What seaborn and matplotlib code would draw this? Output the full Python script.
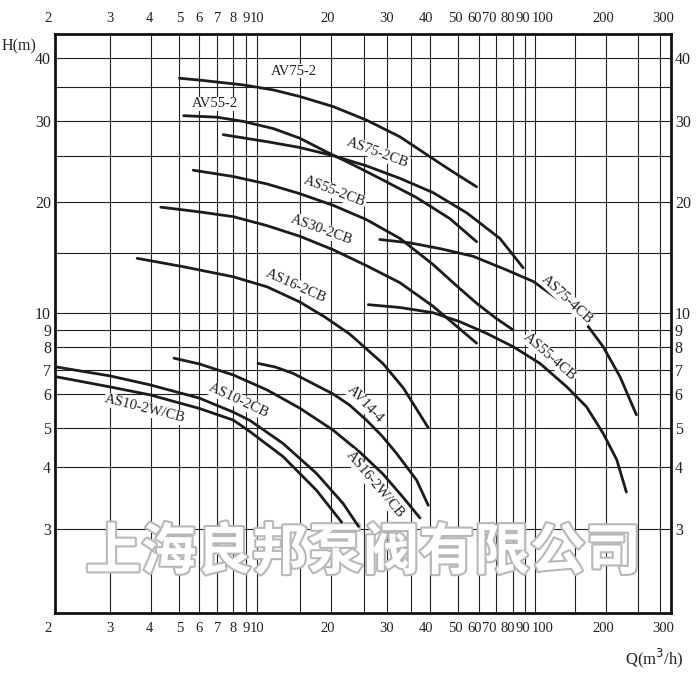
import numpy as np
import pandas as pd
import matplotlib
matplotlib.use('Agg')
import matplotlib.pyplot as plt
import matplotlib.patheffects as pe
from matplotlib.ticker import FixedLocator, NullFormatter, FixedFormatter
from matplotlib.transforms import ScaledTranslation
import seaborn as sns

# 性能曲线数据: 流量 Q (m3/h), 扬程 H (m)
q_av75_2 = [5.0, 6.0, 8.8, 11.7, 15, 20.3, 25.5, 32.6, 40, 48, 58.8]
h_av75_2 = [36.4, 36.1, 35.3, 34.5, 33.5, 32.0, 30.1, 27.6, 24.9, 23.1, 21.5]

q_av55_2 = [5.2, 6.95, 8.8, 11.7, 15, 19.2, 23.3, 29.2, 36.4, 46.8, 58.8]
h_av55_2 = [30.7, 30.5, 29.9, 28.8, 27.4, 25.5, 23.9, 22.2, 20.4, 18.2, 16.0]

q_as75_2cb = [7.35, 11.0, 15, 20.3, 25.5, 32.6, 41.1, 53.8, 72.3, 88.7]
h_as75_2cb = [27.9, 26.9, 26.1, 25.0, 23.8, 22.4, 20.9, 18.8, 16.3, 13.6]

q_as55_2cb = [5.68, 8.0, 11.0, 15, 20.3, 25.5, 32.6, 41.1, 49.0, 58.8, 70.1, 80]
h_as55_2cb = [23.3, 22.6, 21.8, 20.8, 19.6, 18.1, 16.3, 13.9, 12.1, 10.7, 9.7, 9.0]

q_as30_2cb = [4.32, 6.0, 8.0, 11.0, 15, 20.3, 25.5, 32.6, 41.0, 58.8]
h_as30_2cb = [19.4, 18.9, 18.4, 17.5, 16.5, 15.3, 13.8, 12.3, 10.5, 8.2]

q_as16_2cb = [3.63, 5.18, 8.0, 11.0, 15, 18.9, 22.7, 29.2, 33.3, 39.6]
h_as16_2cb = [14.5, 13.7, 12.8, 11.96, 10.8, 9.77, 8.75, 7.25, 6.24, 5.0]

q_as75_4cb = [28.4, 34.7, 43.3, 57.0, 76.1, 98.6, 129, 162, 195, 221, 248]
h_as75_4cb = [16.2, 15.9, 15.4, 14.7, 13.4, 12.4, 10.9, 9.6, 8.0, 6.7, 5.36]

q_as55_4cb = [25.9, 32.6, 41.1, 50.7, 64.4, 80, 105.5, 138, 167, 195, 216, 231]
h_as55_4cb = [10.6, 10.4, 10.04, 9.48, 8.79, 8.0, 7.27, 6.29, 5.6, 4.84, 4.16, 3.56]

q_av14_4 = [10.1, 11.9, 14.1, 20.3, 22.7, 25.5, 28.9, 31.9, 36.4, 39.6]
h_av14_4 = [7.27, 7.12, 6.85, 6.0, 5.65, 5.21, 4.77, 4.32, 3.76, 3.35]

q_as16_2wcb = [4.79, 6.0, 8.0, 11.0, 15, 20.3, 24.3, 29.1, 33.2, 37.3]
h_as16_2wcb = [7.49, 7.25, 6.78, 6.16, 5.56, 4.93, 4.35, 3.87, 3.48, 3.16]

q_as10_2cb = [2.0, 3.0, 3.98, 6.0, 8.0, 9.36, 12.8, 17.5, 21.7, 24.1]
h_as10_2cb = [7.13, 6.74, 6.36, 5.87, 5.44, 5.2, 4.57, 3.88, 3.38, 3.04]

q_as10_2wcb = [2.0, 3.0, 3.98, 6.0, 8.0, 9.36, 12.8, 17.5, 21.5]
h_as10_2wcb = [6.71, 6.28, 5.97, 5.55, 5.21, 4.89, 4.24, 3.59, 3.1]

curves = {
    'AV75-2': (q_av75_2, h_av75_2),
    'AV55-2': (q_av55_2, h_av55_2),
    'AS75-2CB': (q_as75_2cb, h_as75_2cb),
    'AS55-2CB': (q_as55_2cb, h_as55_2cb),
    'AS30-2CB': (q_as30_2cb, h_as30_2cb),
    'AS16-2CB': (q_as16_2cb, h_as16_2cb),
    'AS75-4CB': (q_as75_4cb, h_as75_4cb),
    'AS55-4CB': (q_as55_4cb, h_as55_4cb),
    'AV14-4': (q_av14_4, h_av14_4),
    'AS16-2W/CB': (q_as16_2wcb, h_as16_2wcb),
    'AS10-2CB': (q_as10_2cb, h_as10_2cb),
    'AS10-2W/CB': (q_as10_2wcb, h_as10_2wcb),
}

# 曲线标注: 名称, Q, H, 旋转角
curve_labels = [
    ('AV75-2', 14.2, 37.6, 0),
    ('AV55-2', 6.85, 32.4, 0),
    ('AS75-2CB', 28.0, 25.4, -20),
    ('AS55-2CB', 20.5, 21.0, -21),
    ('AS30-2CB', 18.4, 17.1, -20),
    ('AS16-2CB', 14.5, 12.0, -24),
    ('AS75-4CB', 138, 11.0, -43),
    ('AS55-4CB', 117, 7.54, -41),
    ('AS10-2W/CB', 3.84, 5.53, -14),
    ('AS10-2CB', 8.44, 5.78, -25),
    ('AV14-4', 25.2, 5.68, -46),
    ('AS16-2W/CB', 27.3, 3.68, -50),
]

x_major = [2, 3, 4, 5, 6, 7, 8, 9, 10, 20, 30, 40, 50, 60, 70, 80, 90, 100, 200, 300]
x_minor = [15, 25, 35, 150, 250]
y_major = [3, 4, 5, 6, 7, 8, 9, 10, 20, 30, 40]
y_minor = [15, 25, 35]

# 原图刻度数字并不正对格线, 按像素微调
x_label_shift = {2: -7, 4: -2, 20: -3, 40: -4, 50: -3, 60: -4, 70: -6, 80: -5, 90: -2, 100: 8, 200: -3, 300: 3}

# 坐标纸不是严格的对数刻度, 按格线位置分段标定
x_marks = [1, 2, 3, 4, 5, 6, 7, 8, 9, 10, 15, 20, 25, 30, 35, 40, 50, 60, 70, 80, 90, 100, 150, 200, 250, 300, 1000]
x_paper = [-35, 55.3, 110, 151, 179.5, 199.2, 217.5, 233.3, 245.8, 257, 299.7, 331, 364, 386.7, 411.3,
           429.7, 458.5, 479, 495.7, 513.3, 524.7, 534.7, 575, 606, 637.7, 660, 817]
y_marks = [1, 2, 3, 4, 5, 6, 7, 8, 9, 10, 15, 20, 25, 30, 35, 40, 45, 100]
y_paper = [-757, -612.7, -529.3, -466.7, -427.7, -394, -370, -346.7, -330, -313.3, -253.3, -201.7,
           -155.7, -120.8, -86.8, -57.7, -34.3, 139]


def make_scale(marks, paper):
    lm = np.log10(marks)

    def fwd(v):
        v = np.clip(np.asarray(v, dtype=float), 1e-3, None)
        return np.interp(np.log10(v), lm, paper)

    def inv(p):
        return 10 ** np.interp(np.asarray(p, dtype=float), paper, lm)

    return fwd, inv


sns.set_theme(style='white')
plt.rcParams['font.family'] = ['Liberation Serif', 'DejaVu Serif']

fig = plt.figure(figsize=(7, 6.78), dpi=100)
ax = fig.add_axes([55.3 / 700, (678 - 612.7) / 678, (670.7 - 55.3) / 700, (612.7 - 34.3) / 678])
ax.set_xscale('function', functions=make_scale(x_marks, x_paper))
ax.set_yscale('function', functions=make_scale(y_marks, y_paper))

df = pd.concat([pd.DataFrame({'Q': q, 'H': h, 'model': name}) for name, (q, h) in curves.items()])
sns.lineplot(data=df, x='Q', y='H', units='model', estimator=None, sort=False,
             color='#1c1c1c', linewidth=2.0, ax=ax, legend=False, zorder=4)

ax.set_xlim(2, 326)
ax.set_ylim(2, 45)
ax.set_xlabel('')
ax.set_ylabel('')

ax.xaxis.set_major_locator(FixedLocator(x_major))
ax.xaxis.set_major_formatter(FixedFormatter([str(v) for v in x_major]))
ax.xaxis.set_minor_locator(FixedLocator(x_minor))
ax.xaxis.set_minor_formatter(NullFormatter())
ax.yaxis.set_major_locator(FixedLocator(y_major))
ax.yaxis.set_major_formatter(FixedFormatter([str(v) for v in y_major]))
ax.yaxis.set_minor_locator(FixedLocator(y_minor))
ax.yaxis.set_minor_formatter(NullFormatter())

ax.grid(True, which='both', color='#202020', linewidth=0.8)
ax.tick_params(which='both', length=0, colors='#222222',
               top=True, labeltop=True, right=True, labelright=True)
ax.tick_params(axis='x', pad=7, labelsize=10.5)
ax.tick_params(axis='y', pad=3, labelsize=11.5)
for s in ax.spines.values():
    s.set_linewidth(2.0)
    s.set_color('#111111')

# 逐个平移刻度数字 (按刻度顺序对应)
for v, tick in zip(x_major, ax.xaxis.get_major_ticks(len(x_major))):
    dx = x_label_shift.get(v, 0)
    if dx:
        for lab in (tick.label1, tick.label2):
            lab.set_transform(lab.get_transform() + ScaledTranslation(dx / 100, 0, fig.dpi_scale_trans))

for name, q, h, rot in curve_labels:
    ax.text(q, h, name, rotation=rot, rotation_mode='anchor', ha='center', va='center',
            fontsize=10.5, color='#222222', zorder=5,
            bbox=dict(boxstyle='square,pad=0.05', fc='white', ec='none'))

# 水印
ax.text(0.5, 0.103, '上海良邦泵阀有限公司', transform=ax.transAxes, ha='center', va='center',
        fontsize=40, color='white', family=['Noto Sans CJK SC', 'DejaVu Sans'], fontweight='bold',
        zorder=3, path_effects=[pe.Stroke(linewidth=3, foreground='#b8b8b8'), pe.Normal()])

fig.text(19 / 700, 1 - 46 / 678, 'H(m)', ha='center', va='center', fontsize=11.5, color='#222222')
fig.text(683 / 700, 1 - 658 / 678, 'Q(m$^3$/h)', ha='right', va='center', fontsize=12, color='#222222')

fig.savefig('out.png', dpi=100, facecolor='white')
